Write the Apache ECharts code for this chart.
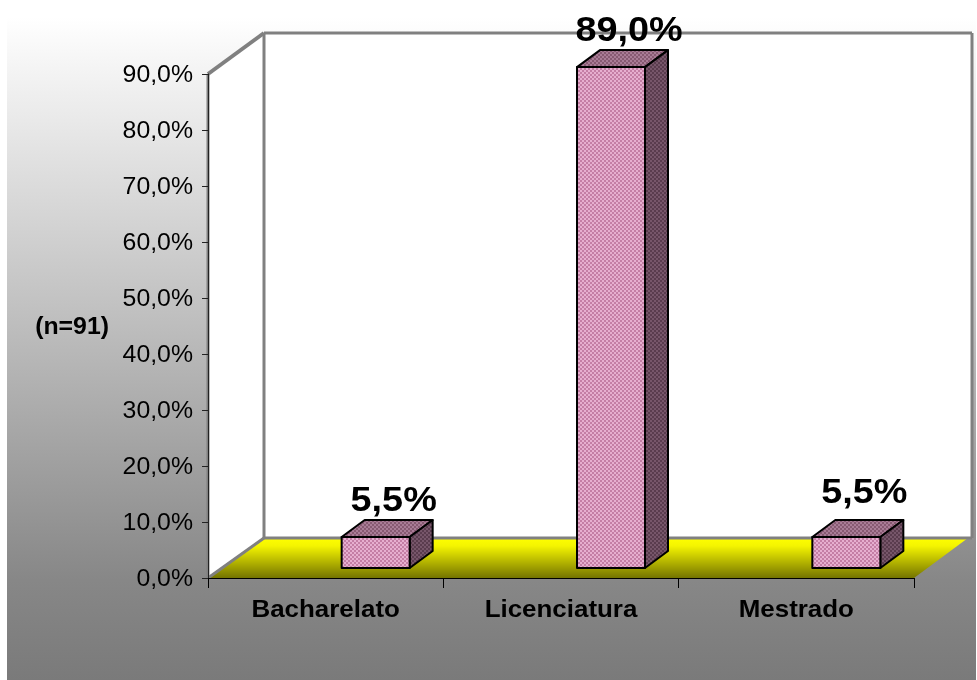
<!DOCTYPE html>
<html>
<head>
<meta charset="utf-8">
<style>html,body{margin:0;padding:0;background:#fff}#c{width:977px;height:680px}</style>
<script src="https://cdn.jsdelivr.net/npm/echarts@6/dist/echarts.min.js"></script>
</head>
<body>
<div id="c"></div>
<script>
const categories = ['Bacharelato', 'Licenciatura', 'Mestrado'];
const percentages = [5.5, 89.0, 5.5];
const sideNote = '(n=91)';

// The reference's text is stretched horizontally and sits slightly low; keep it real text.
const TEXT_STRETCH = 1.08;
const TEXT_DROP = 2;
const nativeFillText = CanvasRenderingContext2D.prototype.fillText;
CanvasRenderingContext2D.prototype.fillText = function (t, x, y, m) {
  this.save();
  this.translate(x, y + TEXT_DROP);
  this.scale(TEXT_STRETCH, 1);
  if (m === undefined) nativeFillText.call(this, t, 0, 0);
  else nativeFillText.call(this, t, 0, 0, m);
  this.restore();
};

const FONT = '"Liberation Sans", Arial, sans-serif';
const depthX = 56, depthY = 40;       // floor depth
const barShiftX = 50, barShiftY = 10; // bars stand a little into the floor
const barW = 68, barDX = 23, barDY = 17;
const heightGain = 1.005;
const labelLift = [7, 7, 15];

function checker(a, b) {
  const c = document.createElement('canvas');
  c.width = c.height = 4;
  const g = c.getContext('2d');
  g.fillStyle = a; g.fillRect(0, 0, 4, 4);
  g.fillStyle = b; g.fillRect(0, 0, 2, 2); g.fillRect(2, 2, 2, 2);
  return { image: c, repeat: 'repeat' };
}
const frontFill = checker('#e6aecf', '#c47ea5');
const topFill = checker('#a97c96', '#875a72');
const sideFill = checker('#77566a', '#5a3c4e');
const wallGrey = '#808080';

function renderScene(params) {
  const r = params.coordSys;
  const L = r.x, R = r.x + r.width, T = r.y, B = r.y + r.height;
  const bx = L + depthX, by = B - depthY, ty = T - depthY - 1, rx = R + 58;
  const line = (x1, y1, x2, y2, w) => ({
    type: 'line', shape: { x1, y1, x2, y2 },
    style: { stroke: wallGrey, lineWidth: w || 3, fill: null }
  });
  const poly = (points, style) => ({ type: 'polygon', shape: { points }, style });
  return {
    type: 'group',
    children: [
      poly([[bx, ty], [rx, ty], [rx, by], [bx, by]], { fill: '#ffffff' }),
      poly([[L, T], [bx, ty], [bx, by], [L, B]], { fill: '#ffffff' }),
      poly([[L, B], [bx, by], [R + depthX - 2, by], [R, B]], {
        fill: {
          type: 'linear', x: 0, y: 0, x2: 0, y2: 1,
          colorStops: [
            { offset: 0, color: '#ffff00' }, { offset: 0.2, color: '#f4f400' },
            { offset: 1, color: '#747400' }
          ]
        }
      }),
      line(L, T, bx, ty, 4), line(bx, ty, rx, ty), line(rx, ty, rx, by),
      line(bx, ty, bx, by), line(bx, by, rx, by), line(L, B, bx, by),
      line(L, T, L, B)
    ]
  };
}

function renderBar(params, api) {
  const i = api.value(0), v = api.value(1);
  const base = api.coord([i, 0]);
  const tip = api.coord([i, v]);
  const x0 = base[0] + barShiftX - barW / 2, x1 = x0 + barW;
  const y0 = base[1] - barShiftY;
  const y1 = y0 - (base[1] - tip[1]) * heightGain;
  const edge = { stroke: '#000000', lineWidth: 2, lineJoin: 'round' };
  const poly = (points, fill) => ({
    type: 'polygon', shape: { points },
    style: Object.assign({ fill }, edge)
  });
  return {
    type: 'group',
    children: [
      poly([[x0, y1], [x0 + barDX, y1 - barDY], [x1 + barDX, y1 - barDY], [x1, y1]], topFill),
      poly([[x1, y1], [x1 + barDX, y1 - barDY], [x1 + barDX, y0 - barDY], [x1, y0]], sideFill),
      poly([[x0, y1], [x1, y1], [x1, y0], [x0, y0]], frontFill),
      {
        type: 'text',
        style: {
          text: v.toFixed(1).replace('.', ',') + '%',
          x: (x0 + x1) / 2 + 18,
          y: y1 - barDY - labelLift[params.dataIndex] + 4,
          font: 'bold 35px ' + FONT,
          fill: '#000000',
          align: 'center', verticalAlign: 'bottom',
          textAlign: 'center', textVerticalAlign: 'bottom'
        }
      }
    ]
  };
}

const chart = echarts.init(document.getElementById('c'), null, { renderer: 'canvas' });
chart.setOption({
  animation: false,
  backgroundColor: '#ffffff',
  graphic: [{
    type: 'rect', z: -10, silent: true,
    shape: { x: 7, y: 17, width: 969, height: 663 },
    style: {
      fill: {
        type: 'linear', x: 0, y: 0, x2: 0, y2: 1,
        colorStops: [{ offset: 0, color: '#ffffff' }, { offset: 0.85, color: '#878787' }, { offset: 1, color: '#7a7a7a' }]
      }
    }
  }],
  grid: { left: 208, right: 63, top: 74, bottom: 102, containLabel: false },
  xAxis: {
    type: 'category',
    data: categories,
    z: 5,
    axisLine: { show: true, lineStyle: { color: '#000000', width: 1 } },
    axisTick: { show: true, length: 10, lineStyle: { color: '#000000', width: 1 } },
    axisLabel: { margin: 18, color: '#000000', fontFamily: FONT, fontWeight: 'bold', fontSize: 24 },
    splitLine: { show: false }
  },
  yAxis: {
    type: 'value',
    min: 0, max: 90, interval: 10,
    z: 5,
    name: sideNote,
    nameLocation: 'middle',
    nameRotate: 0,
    nameGap: 99,
    nameTextStyle: { color: '#000000', fontFamily: FONT, fontWeight: 'bold', fontSize: 23 },
    axisLine: { show: true, lineStyle: { color: '#222222', width: 1 } },
    axisTick: { show: true, length: 6, lineStyle: { color: '#222222', width: 1 } },
    axisLabel: {
      margin: 15, color: '#000000', fontFamily: FONT, fontSize: 23,
      formatter: v => v.toFixed(1).replace('.', ',') + '%'
    },
    splitLine: { show: false }
  },
  series: [
    {
      type: 'custom', name: 'scene', z: 1, silent: true, clip: false,
      coordinateSystem: 'cartesian2d',
      renderItem: renderScene,
      data: [[0, 0]], encode: { x: 0, y: 1 }
    },
    {
      type: 'custom', name: 'Percentual', z: 10, silent: true, clip: false,
      coordinateSystem: 'cartesian2d',
      renderItem: renderBar,
      data: percentages.map((v, i) => [i, v]), encode: { x: 0, y: 1 }
    }
  ]
});
</script>
</body>
</html>
